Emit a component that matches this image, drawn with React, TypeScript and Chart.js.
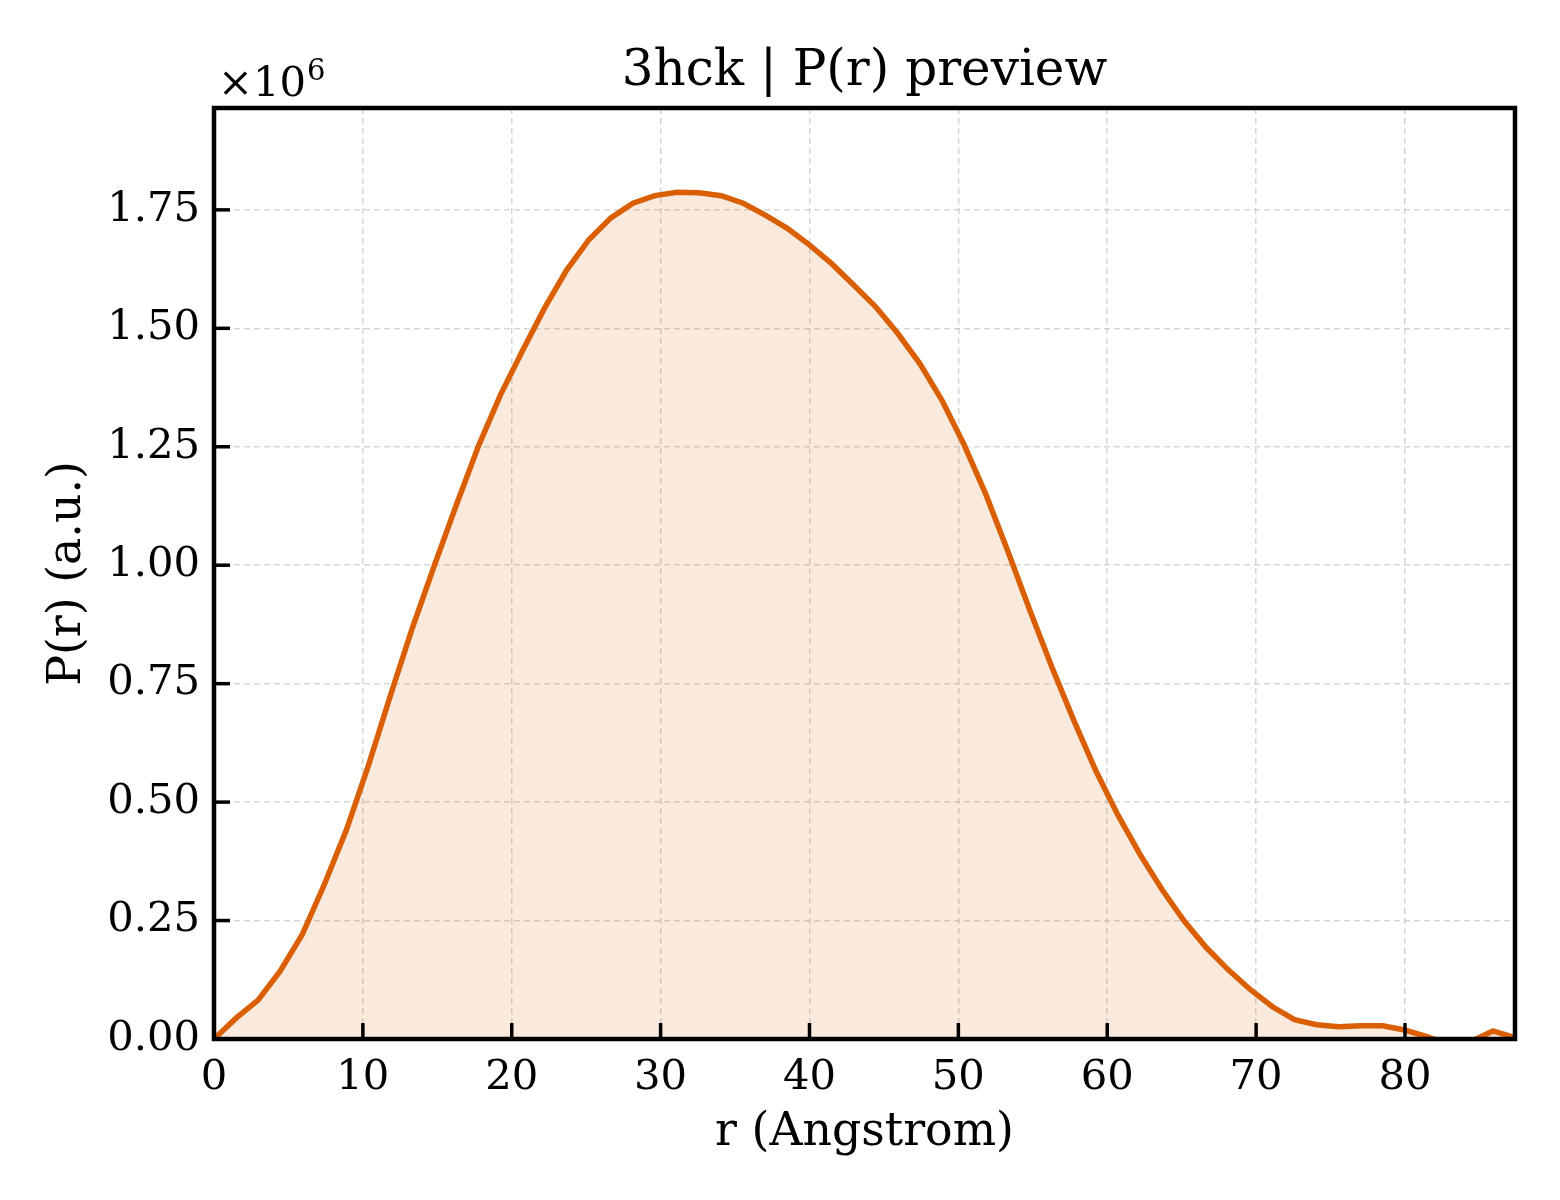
import React, { useEffect, useRef } from 'react';
import { Chart, registerables } from 'chart.js';

Chart.register(...registerables);

// r in Angstrom
const rValues = [
    0, 1.48, 2.96, 4.44, 5.92, 7.41, 8.89, 10.37, 11.85, 13.33,
    14.81, 16.29, 17.77, 19.25, 20.73, 22.21, 23.69, 25.18, 26.66, 28.14,
    29.62, 31.10, 32.58, 34.07, 35.55, 37.03, 38.51, 39.99, 41.47, 42.95,
    44.43, 45.91, 47.40, 48.88, 50.36, 51.84, 53.32, 54.80, 56.28, 57.76,
    59.25, 60.73, 62.21, 63.69, 65.17, 66.65, 68.13, 69.62, 71.10, 72.58,
    74.06, 75.54, 77.02, 78.50, 79.98, 81.47, 82.95, 84.43, 85.91, 87.39,
];

// P(r), in units of 1e6
const prValues = [
    0, 0.044, 0.082, 0.143, 0.220, 0.326, 0.441, 0.577, 0.725, 0.868,
    1.000, 1.128, 1.252, 1.360, 1.453, 1.543, 1.623, 1.687, 1.733, 1.764,
    1.780, 1.787, 1.786, 1.780, 1.764, 1.739, 1.711, 1.676, 1.637, 1.592,
    1.546, 1.490, 1.426, 1.349, 1.256, 1.150, 1.030, 0.905, 0.785, 0.672,
    0.565, 0.472, 0.389, 0.315, 0.249, 0.193, 0.146, 0.104, 0.068, 0.041,
    0.030, 0.026, 0.028, 0.028, 0.019, 0.005, -0.012, -0.005, 0.017, 0.003,
];

const TITLE = '3hck | P(r) preview';
const X_LABEL = 'r (Angstrom)';
const Y_LABEL = 'P(r) (a.u.)';
const SERIF = "'DejaVu Serif', serif";
const LINE_COLOR = '#d95f02';

const framePlugin = {
    id: 'frame',
    afterDraw(chart: Chart) {
        const { ctx, chartArea: a, scales } = chart;
        ctx.save();
        ctx.strokeStyle = '#000';
        ctx.lineCap = 'butt';
        // inward tick marks
        ctx.lineWidth = 3.5;
        scales.x.getTicks().forEach((t) => {
            const px = scales.x.getPixelForValue(t.value);
            ctx.beginPath();
            ctx.moveTo(px, a.bottom);
            ctx.lineTo(px, a.bottom - 16);
            ctx.stroke();
        });
        scales.y.getTicks().forEach((t) => {
            const py = scales.y.getPixelForValue(t.value);
            ctx.beginPath();
            ctx.moveTo(a.left, py);
            ctx.lineTo(a.left + 16, py);
            ctx.stroke();
        });
        ctx.lineWidth = 4.5;
        ctx.strokeRect(a.left, a.top, a.right - a.left, a.bottom - a.top);

        // title
        ctx.fillStyle = '#000';
        ctx.font = `50px ${SERIF}`;
        ctx.textAlign = 'center';
        ctx.textBaseline = 'alphabetic';
        ctx.fillText(TITLE, (a.left + a.right) / 2, 85);

        // offset text
        ctx.textAlign = 'left';
        ctx.font = `41.7px ${SERIF}`;
        const base = '\u00d710';
        ctx.fillText(base, a.left + 4, 96);
        const w = ctx.measureText(base).width;
        ctx.font = `29px ${SERIF}`;
        ctx.fillText('6', a.left + 4 + w + 1, 80);
        ctx.restore();
    },
};

const PrChart: React.FC = () => {
    const chartRef = useRef<HTMLCanvasElement>(null);
    const chartInstance = useRef<Chart | null>(null);

    useEffect(() => {
        document.body.style.margin = '0';
        if (!chartRef.current) return;
        const ctx = chartRef.current.getContext('2d');
        if (!ctx) return;

        if (chartInstance.current) {
            chartInstance.current.destroy();
        }

        chartInstance.current = new Chart(ctx, {
            type: 'line',
            data: {
                datasets: [
                    {
                        data: rValues.map((r, i) => ({ x: r, y: prValues[i] })),
                        borderColor: LINE_COLOR,
                        backgroundColor: 'rgba(217, 95, 2, 0.13)',
                        borderWidth: 5.5,
                        pointRadius: 0,
                        tension: 0,
                        fill: 'origin',
                    },
                ],
            },
            options: {
                animation: false,
                responsive: true,
                maintainAspectRatio: false,
                layout: {
                    padding: { left: 0, right: 45, top: 108, bottom: 0 },
                },
                scales: {
                    x: {
                        type: 'linear',
                        min: 0,
                        max: 87.39,
                        afterFit: (scale) => {
                            scale.height = 161;
                        },
                        ticks: {
                            stepSize: 10,
                            includeBounds: false,
                            color: '#000',
                            padding: 14,
                            maxRotation: 0,
                            font: { family: SERIF, size: 41.7 },
                        },
                        grid: {
                            color: 'rgba(200, 200, 200, 0.75)',
                            lineWidth: 1.5,
                            drawTicks: false,
                        },
                        border: { display: false, dash: [6, 4] },
                        title: {
                            display: true,
                            text: X_LABEL,
                            color: '#000',
                            font: { family: SERIF, size: 45.8, lineHeight: 1 },
                            padding: { top: 0, bottom: 44 },
                        },
                    },
                    y: {
                        type: 'linear',
                        min: 0,
                        max: 1.965,
                        afterFit: (scale) => {
                            scale.width = 214;
                        },
                        ticks: {
                            stepSize: 0.25,
                            includeBounds: false,
                            color: '#000',
                            padding: 14,
                            font: { family: SERIF, size: 41.7 },
                            callback: (v) => Number(v).toFixed(2),
                        },
                        grid: {
                            color: 'rgba(200, 200, 200, 0.75)',
                            lineWidth: 1.5,
                            drawTicks: false,
                        },
                        border: { display: false, dash: [6, 4] },
                        title: {
                            display: true,
                            text: Y_LABEL,
                            color: '#000',
                            font: { family: SERIF, size: 45.8, lineHeight: 1 },
                            padding: { top: 45, bottom: 0 },
                        },
                    },
                },
                plugins: {
                    legend: { display: false },
                    title: { display: false },
                    tooltip: { enabled: false },
                },
            },
            plugins: [framePlugin],
        });

        return () => {
            if (chartInstance.current) {
                chartInstance.current.destroy();
                chartInstance.current = null;
            }
        };
    }, []);

    return (
        <div style={{ width: '1560px', height: '1200px', background: '#fff' }}>
            <canvas ref={chartRef}></canvas>
        </div>
    );
};

export default function App() {
    return <PrChart />;
}
